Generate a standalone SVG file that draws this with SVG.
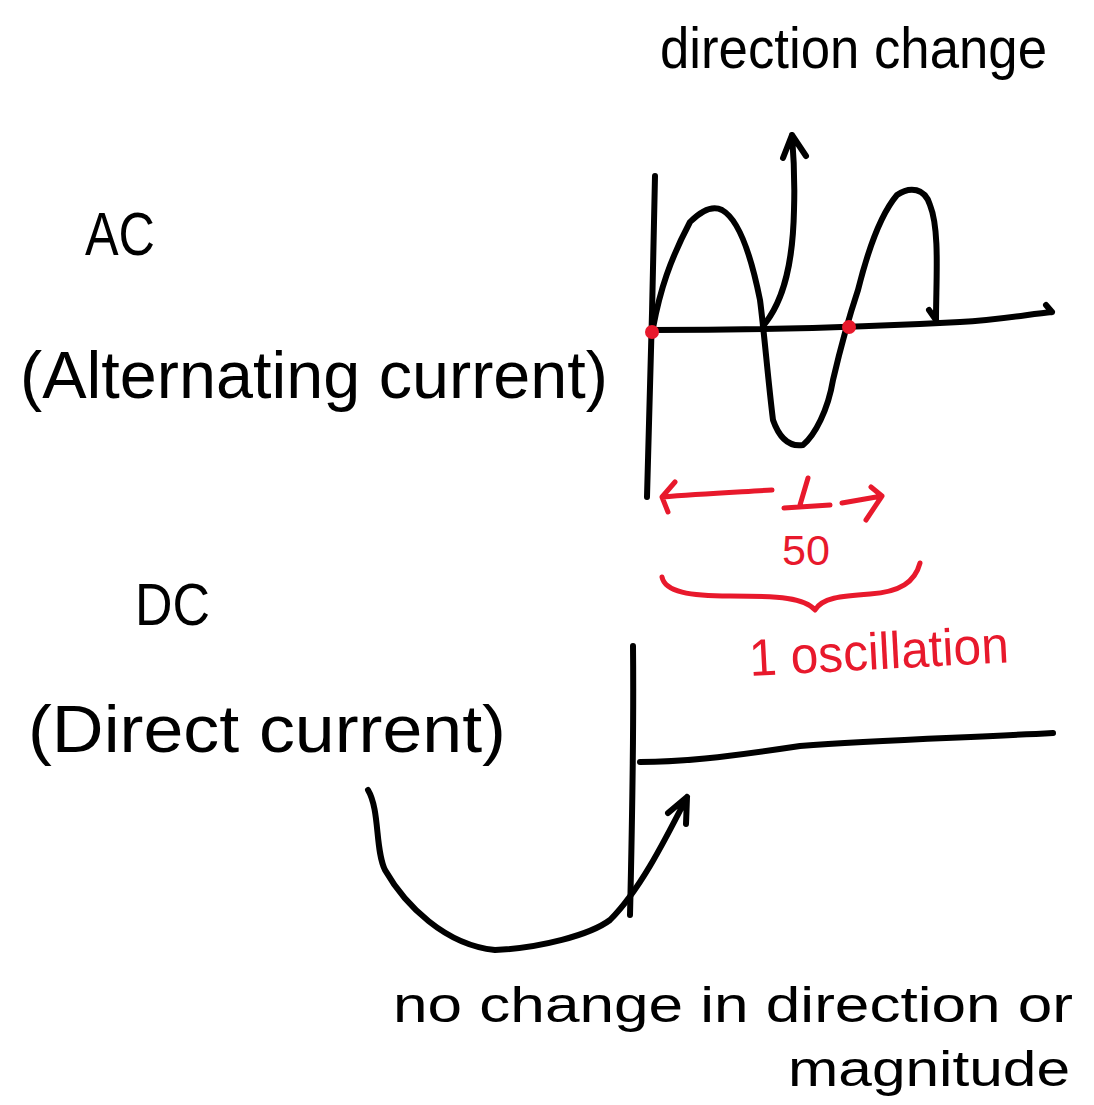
<svg xmlns="http://www.w3.org/2000/svg" width="1094" height="1105" viewBox="0 0 1094 1105">
<style>
.ink{fill:none;stroke:#000;stroke-width:6;stroke-linecap:round;stroke-linejoin:round}
.red{fill:none;stroke:#e8192c;stroke-width:5;stroke-linecap:round;stroke-linejoin:round}
.t{font-family:"Liberation Sans","DejaVu Sans",sans-serif;fill:#000}
.tr{font-family:"Liberation Sans","DejaVu Sans",sans-serif;fill:#e8192c}
</style>
<rect width="1094" height="1105" fill="#fff"/>
<g id="label-direction-change"><text class="t" x="660" y="68" font-size="58" textLength="387" lengthAdjust="spacingAndGlyphs">direction change</text></g>
<g id="label-ac"><text class="t" x="85" y="255" font-size="62" textLength="70" lengthAdjust="spacingAndGlyphs">AC</text></g>
<g id="label-alternating"><text class="t" x="20" y="398" font-size="66" textLength="588" lengthAdjust="spacingAndGlyphs">(Alternating  current)</text></g>
<g id="label-dc"><text class="t" x="135" y="625" font-size="60" textLength="75" lengthAdjust="spacingAndGlyphs">DC</text></g>
<g id="label-direct"><text class="t" x="28" y="752" font-size="66" textLength="478" lengthAdjust="spacingAndGlyphs">(Direct  current)</text></g>
<g id="label-no-change"><text class="t" x="393" y="1022" font-size="50" textLength="680" lengthAdjust="spacingAndGlyphs">no change in direction or</text></g>
<g id="label-magnitude"><text class="t" x="788" y="1086" font-size="50" textLength="282" lengthAdjust="spacingAndGlyphs">magnitude</text></g>
<g id="label-oscillation"><text class="tr" x="750" y="676" font-size="52" textLength="260" lengthAdjust="spacingAndGlyphs" transform="rotate(-3 750 676)">1 oscillation</text></g>
<g id="label-fraction">
<path class="red" d="M808 478 L800 505 M784 508 L830 505"/>
<text class="tr" x="782" y="565" font-size="42" textLength="48" lengthAdjust="spacingAndGlyphs">50</text>
</g>
<g id="ac-graph">
<path class="ink" d="M655 176 C653 280 650 400 647 497"/>
<path class="ink" d="M651 330 C750 330 850 328 960 322 C1000 320 1030 314 1052 312 M1046 305 L1052 312"/>
<path class="ink" d="M653 328 C660 290 670 260 690 222 C700 212 712 205 722 210 C740 220 752 260 760 300 C764 330 768 380 773 420 C780 440 790 447 803 445 C815 435 828 410 833 380 C840 350 848 320 858 290 C868 250 880 215 897 195 C910 186 925 188 930 205 C940 230 936 280 936 320 M929 310 L936 320"/>
<circle cx="652" cy="332" r="7" fill="#e8192c"/>
<circle cx="849" cy="327" r="7" fill="#e8192c"/>
</g>
<g id="dc-graph">
<path class="ink" d="M633 646 C634 740 632 830 630 915"/>
<path class="ink" d="M640 762 C680 762 720 758 800 746 C880 740 960 738 1053 733"/>
</g>
<g id="connectors">
<path class="ink" d="M763 326 C785 300 793 260 794 210 C795 180 794 160 792 135 M783 158 L792 135 L806 156"/>
<path class="red" d="M662 497 C700 494 740 492 772 490 M675 482 L662 497 L668 512"/>
<path class="red" d="M842 503 L882 496 M871 487 L882 496 L866 520"/>
<path class="red" d="M662 577 C665 592 690 596 730 596 C780 596 805 598 815 610 C822 598 840 596 870 594 C900 592 915 582 920 563"/>
<path class="ink" d="M368 790 C380 810 375 850 385 870 C405 905 445 945 495 950 C540 948 590 935 610 920 C640 890 665 840 687 797 M668 813 L687 797 L686 824"/>
</g>
</svg>
